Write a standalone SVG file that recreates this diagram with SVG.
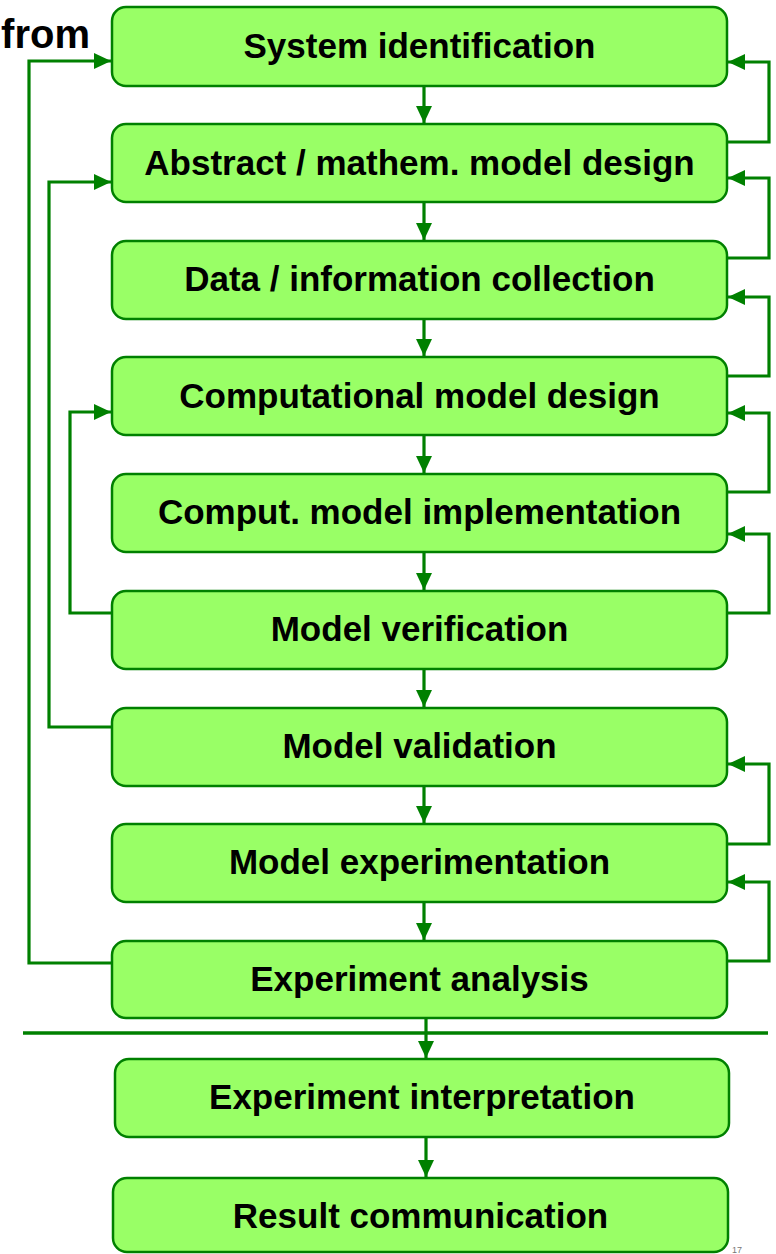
<svg xmlns="http://www.w3.org/2000/svg" width="776" height="1254" viewBox="0 0 776 1254">
<style>
.box{fill:#99ff66;stroke:#008000;stroke-width:2.5}
.lbl{font-family:"Liberation Sans",Arial,sans-serif;font-weight:bold;font-size:35px;fill:#000;text-anchor:middle}
.con{fill:none;stroke:#008000;stroke-width:3.2}
</style>
<defs>
<marker id="ah" markerUnits="userSpaceOnUse" markerWidth="17" markerHeight="16" refX="17" refY="8" orient="auto">
<path d="M0,0 L17,8 L0,16 z" fill="#008000"/>
</marker>
</defs>
<rect width="776" height="1254" fill="#ffffff"/>
<text x="90" y="48" style="font-family:'Liberation Sans',Arial,sans-serif;font-weight:bold;font-size:40px;text-anchor:end" fill="#000">from</text>
<text x="732" y="1253" style="font-family:'Liberation Sans',Arial,sans-serif;font-size:9px" fill="#777">17</text>

<g id="connectors">
<line class="con" x1="424" y1="86" x2="424" y2="123" marker-end="url(#ah)"/>
<line class="con" x1="424" y1="202" x2="424" y2="240" marker-end="url(#ah)"/>
<line class="con" x1="424" y1="319" x2="424" y2="356" marker-end="url(#ah)"/>
<line class="con" x1="424" y1="435" x2="424" y2="473" marker-end="url(#ah)"/>
<line class="con" x1="424" y1="552" x2="424" y2="590" marker-end="url(#ah)"/>
<line class="con" x1="424" y1="669" x2="424" y2="707" marker-end="url(#ah)"/>
<line class="con" x1="424" y1="786" x2="424" y2="823" marker-end="url(#ah)"/>
<line class="con" x1="424" y1="902" x2="424" y2="940" marker-end="url(#ah)"/>
<line class="con" x1="426" y1="1018" x2="426" y2="1058" marker-end="url(#ah)"/>
<line class="con" x1="426" y1="1137" x2="426" y2="1177" marker-end="url(#ah)"/>
<line x1="23" y1="1033" x2="768" y2="1033" stroke="#008000" stroke-width="3.5"/>
<polyline class="con" points="727,142 769,142 769,62 728,62" marker-end="url(#ah)"/>
<polyline class="con" points="727,258 769,258 769,178 728,178" marker-end="url(#ah)"/>
<polyline class="con" points="727,376 769,376 769,297 728,297" marker-end="url(#ah)"/>
<polyline class="con" points="727,492 769,492 769,413 728,413" marker-end="url(#ah)"/>
<polyline class="con" points="727,613 769,613 769,534 728,534" marker-end="url(#ah)"/>
<polyline class="con" points="727,844 769,844 769,764 728,764" marker-end="url(#ah)"/>
<polyline class="con" points="727,961 769,961 769,882 728,882" marker-end="url(#ah)"/>
<polyline class="con" points="112,963 29,963 29,61 111,61" marker-end="url(#ah)"/>
<polyline class="con" points="112,727 49,727 49,182 111,182" marker-end="url(#ah)"/>
<polyline class="con" points="112,613 70,613 70,412 111,412" marker-end="url(#ah)"/>
</g>

<g id="n1"><rect class="box" x="112" y="7" width="615" height="79" rx="14"/><text class="lbl" x="419.5" y="58">System identification</text></g>
<g id="n2"><rect class="box" x="112" y="124" width="615" height="78" rx="14"/><text class="lbl" x="419.5" y="175">Abstract / mathem. model design</text></g>
<g id="n3"><rect class="box" x="112" y="241" width="615" height="78" rx="14"/><text class="lbl" x="419.5" y="291">Data / information collection</text></g>
<g id="n4"><rect class="box" x="112" y="357" width="615" height="78" rx="14"/><text class="lbl" x="419.5" y="408">Computational model design</text></g>
<g id="n5"><rect class="box" x="112" y="474" width="615" height="78" rx="14"/><text class="lbl" x="419.5" y="524">Comput. model implementation</text></g>
<g id="n6"><rect class="box" x="112" y="591" width="615" height="78" rx="14"/><text class="lbl" x="419.5" y="641">Model verification</text></g>
<g id="n7"><rect class="box" x="112" y="708" width="615" height="78" rx="14"/><text class="lbl" x="419.5" y="758">Model validation</text></g>
<g id="n8"><rect class="box" x="112" y="824" width="615" height="78" rx="14"/><text class="lbl" x="419.5" y="874">Model experimentation</text></g>
<g id="n9"><rect class="box" x="112" y="941" width="615" height="77" rx="14"/><text class="lbl" x="419.5" y="991">Experiment analysis</text></g>
<g id="n10"><rect class="box" x="115" y="1059" width="614" height="78" rx="14"/><text class="lbl" x="422" y="1109">Experiment interpretation</text></g>
<g id="n11"><rect class="box" x="113" y="1178" width="615" height="74" rx="14"/><text class="lbl" x="420.5" y="1228">Result communication</text></g>
</svg>
